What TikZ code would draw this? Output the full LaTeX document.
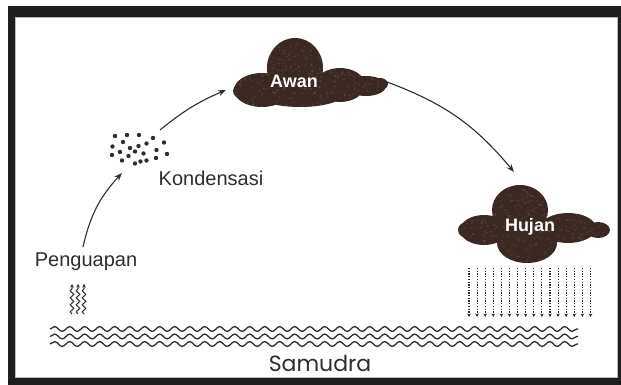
\documentclass[tikz,border=0pt]{standalone}
\usepackage{fontspec}
\setmainfont{Liberation Sans}
\newfontfamily\roundfont{Poppins}
\usetikzlibrary{decorations.pathmorphing, arrows.meta}
\definecolor{ink}{HTML}{2E2E2E}
\definecolor{cloudbrown}{HTML}{3A2823}
\definecolor{cloudlight}{HTML}{6E5248}
\definecolor{framedark}{HTML}{1E1E1E}

\begin{document}
\begin{tikzpicture}[x=1pt, y=-1pt,
  lbl/.style={text=ink, font=\fontsize{20}{24}\selectfont, inner sep=0, anchor=base},
  cloudtext/.style={text=white, font=\bfseries\fontsize{18}{22}\selectfont, inner sep=0, anchor=base},
  cyclearrow/.style={draw=ink, line width=1.1pt, -{Stealth[length=8pt,width=6pt]}},
  wave/.style={draw=ink, line width=1.3pt, decorate,
    decoration={snake, segment length=15pt, amplitude=2.4pt}},
  steam/.style={draw=ink, line width=1pt, decorate,
    decoration={snake, segment length=7pt, amplitude=1.8pt, post length=3pt},
    -{Stealth[length=3.5pt,width=3.5pt]}},
  rain/.style={draw=ink, line width=1.1pt, dash pattern=on 1.3pt off 1.4pt,
    -{Stealth[length=3.5pt,width=3.5pt]}},
  droplet/.style={fill=ink},
  puff/.style={fill=cloudbrown},
  awanshape/.style={insert path={
    (295,68) ellipse [x radius=28pt, y radius=30pt]
    (262,90) ellipse [x radius=28pt, y radius=17pt]
    (245,91) ellipse [x radius=12pt, y radius=9pt]
    (300,93) ellipse [x radius=45pt, y radius=14pt]
    (340,85) ellipse [x radius=25pt, y radius=17pt]
    (366,86) ellipse [x radius=20pt, y radius=10pt]
    (380,84) ellipse [x radius=8pt, y radius=6pt]}},
  hujanshape/.style={insert path={
    (520,210) ellipse [x radius=28pt, y radius=25pt]
    (484,230) ellipse [x radius=24pt, y radius=15pt]
    (467,230) ellipse [x radius=9pt, y radius=8pt]
    (527,243) ellipse [x radius=30pt, y radius=20pt]
    (568,228) ellipse [x radius=28pt, y radius=15pt]
    (598,230) ellipse [x radius=12pt, y radius=8pt]}}
]
\useasboundingbox (0,0) rectangle (621,385);
\pgfmathsetseed{11}

% frame
\fill[framedark] (8,6) rectangle (621,385);
\fill[white] (15,17) rectangle (617,377);
\draw[gray!55, line width=0.6pt] (15,17) rectangle (617,377);

% cloud: Awan
\path[puff, awanshape];
\begin{scope}
  \clip[awanshape];
  \foreach \i in {1,...,420}{
    \pgfmathsetmacro\rx{230+160*rnd}
    \pgfmathsetmacro\ry{36+74*rnd}
    \fill[cloudlight, opacity=0.55] (\rx,\ry) circle[radius=0.9pt];
  }
\end{scope}
\node[cloudtext] (awan) at (294,88) {Awan};

% cloud: Hujan
\path[puff, hujanshape];
\begin{scope}
  \clip[hujanshape];
  \foreach \i in {1,...,420}{
    \pgfmathsetmacro\rx{455+157*rnd}
    \pgfmathsetmacro\ry{183+82*rnd}
    \fill[cloudlight, opacity=0.55] (\rx,\ry) circle[radius=0.9pt];
  }
\end{scope}
\node[cloudtext] (hujan) at (530,231) {Hujan};

% rain
\foreach \i in {0,...,15}{
  \coordinate (r\i a) at (469+8.1*\i,268);
  \coordinate (r\i b) at (469+8.1*\i,317);
  \draw[rain] (r\i a) -- (r\i b);
}

% condensation droplets
\foreach \p in {(115,136),(127,135),(139,135),(153,138),(123,142),(112.5,146.5),
  (130,148),(138.5,146),(146.5,143.5),(164,142.5),(120,152),(112,155),(135,151.5),
  (143.5,153.5),(156.5,150),(167,154),(122,160.5),(135,163.5),(140.5,161.5),
  (146.5,160.5),(156,158),(128.5,156)}{
  \fill[droplet] \p circle[radius=2.2pt];
}

% labels
\node[lbl] (peng) at (86,266) {Penguapan};
\node[lbl] (kond) at (211,185) {Kondensasi};
\node[text=ink, font=\roundfont\fontsize{22}{26}\selectfont, inner sep=0, anchor=base]
  (samudra) at (320,371) {Samudra};

% evaporation
\foreach \x [count=\k] in {72,78,84}{
  \coordinate (s\k a) at (\x,314);
  \coordinate (s\k b) at (\x,284);
  \draw[steam] (s\k a) -- (s\k b);
}

% ocean waves
\foreach \y [count=\k] in {329,336.5,344}{
  \coordinate (w\k a) at (50,\y);
  \coordinate (w\k b) at (578,\y);
  \draw[wave] (w\k a) -- (w\k b);
}

% cycle arrows
\coordinate (evapOut) at (83,247);
\coordinate (condIn) at (122,173);
\coordinate (condOut) at (160,130);
\coordinate (awanIn) at (226,90);
\coordinate (awanOut) at (387,82);
\coordinate (hujanIn) at (514,172);
\draw[cyclearrow] (evapOut) to[bend left=15] (condIn);
\draw[cyclearrow] (condOut) to[bend left=8] (awanIn);
\draw[cyclearrow] (awanOut) to[bend left=15] (hujanIn);
\end{tikzpicture}
\end{document}
